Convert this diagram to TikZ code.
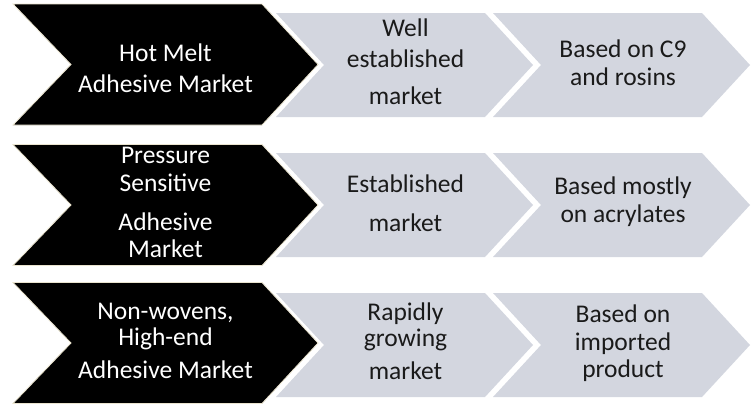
\documentclass[tikz,border=0pt]{standalone}
\usepackage{fontspec}
\setmainfont{Carlito}
\usepackage{tikz}
\definecolor{ink}  {HTML}{000000}
\definecolor{rim}  {HTML}{EAE4CF}
\definecolor{slate}{HTML}{D3D6DF}
\definecolor{dark} {HTML}{1A1A1A}
\tikzset{
  % --- chevrons
  blackchev/.style = {fill=ink, draw=rim, line width=0.8pt},
  greychev/.style  = {fill=slate},
  % --- texts
  lbl/.style  = {anchor=north, align=center, inner sep=0pt,
                 font=\fontsize{25.5}{27.5}\selectfont},
  mkt/.style  = {lbl, text=white},
  feat/.style = {lbl, text=dark},
}

\begin{document}
\begin{tikzpicture}[x=1pt,y=-1pt]
  \useasboundingbox (0,0) rectangle (751,407);
  % black market chevrons, one per row
  \foreach \yc in {64.5,205,343}
    \draw[blackchev] (13,\yc-60.5) -- (262,\yc-60.5) -- (318,\yc)
      -- (262,\yc+60.5) -- (13,\yc+60.5) -- (71,\yc) -- cycle;
  % two grey chevrons after each
  \foreach \yc in {65,205,345}
    \foreach \xl in {276,493}
      \fill[greychev] (\xl,\yc-52) -- (\xl+209,\yc-52) -- (\xl+257,\yc)
        -- (\xl+209,\yc+52) -- (\xl,\yc+52) -- (\xl+48,\yc) -- cycle;

  % hot melt
  \node[mkt]  (hm)     at (165.5,44) {Hot Melt\\[3.5pt]Adhesive Market};
  \node[feat] (hmage)  at (405.5,19) {Well\\[3.5pt]established\\[9.5pt]market};
  \node[feat] (hmbase) at (623,40)   {Based on C9\\and rosins};
  % pressure sensitive
  \node[mkt]  (ps)     at (165.5,147) {Pressure\\Sensitive\\[11.5pt]Adhesive\\Market};
  \node[feat] (psage)  at (405.5,175) {Established\\[11.5pt]market};
  \node[feat] (psbase) at (623,177)   {Based mostly\\on acrylates};
  % non-wovens
  \node[mkt]  (nw)     at (165.5,303) {Non-wovens,\\[-1.5pt]High-end\\[5.5pt]Adhesive Market};
  \node[feat] (nwage)  at (405.5,303) {Rapidly\\[-1.5pt]growing\\[5.5pt]market};
  \node[feat] (nwbase) at (623,305)   {Based on\\imported\\product};
\end{tikzpicture}
\end{document}
